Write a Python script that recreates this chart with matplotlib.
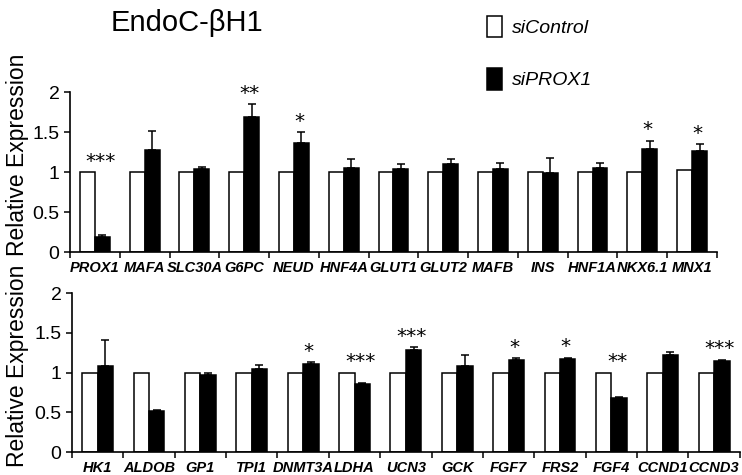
import numpy as np
import matplotlib
matplotlib.use("Agg")
import matplotlib.pyplot as plt

plt.rcParams["font.family"] = ["Liberation Sans", "DejaVu Sans"]

# -------------------------------
# Data
# -------------------------------
top_genes = ["PROX1", "MAFA", "SLC30A", "G6PC", "NEUD", "HNF4A", "GLUT1",
             "GLUT2", "MAFB", "INS", "HNF1A", "NKX6.1", "MNX1"]
top_ctrl = [1, 1, 1, 1, 1, 1, 1, 1, 1, 1, 1, 1, 1.03]
top_si = [0.19, 1.28, 1.04, 1.69, 1.36, 1.05, 1.04, 1.10, 1.04, 0.99, 1.05, 1.29, 1.26]
top_err = [0.03, 0.24, 0.02, 0.16, 0.14, 0.12, 0.06, 0.07, 0.07, 0.19, 0.06, 0.10, 0.09]
top_stars = ["***", "", "", "**", "*", "", "", "", "", "", "", "*", "*"]

bot_genes = ["HK1", "ALDOB", "GP1", "TPI1", "DNMT3A", "LDHA", "UCN3",
             "GCK", "FGF7", "FRS2", "FGF4", "CCND1", "CCND3"]
bot_ctrl = [1, 1, 1, 1, 1, 1, 1, 1, 1, 1, 1, 1, 0.99]
bot_si = [1.08, 0.52, 0.97, 1.05, 1.11, 0.86, 1.28, 1.08, 1.16, 1.17, 0.68, 1.22, 1.15]
bot_err = [0.33, 0.01, 0.02, 0.05, 0.02, 0.01, 0.04, 0.14, 0.02, 0.02, 0.02, 0.04, 0.01]
bot_stars = ["", "", "", "", "*", "***", "***", "", "*", "*", "**", "", "***"]


def draw_panel(ax, genes, ctrl, si, err, stars, label_y):
    x = np.arange(len(genes))
    w = 0.3
    b1 = ax.bar(x - w / 2, ctrl, w, color="white", edgecolor="black", linewidth=1.1)
    b2 = ax.bar(x + w / 2, si, w, color="black", edgecolor="black", linewidth=1.1)
    ax.errorbar(x + w / 2, si, yerr=[np.zeros(len(err)), err], fmt="none",
                ecolor="black", elinewidth=1.1, capsize=3, capthick=1.1)

    for i, s in enumerate(stars):
        if s:
            top = max(ctrl[i], si[i] + err[i])
            ax.text(x[i] + w / 2 - 0.04, top + 0.02, s, ha="center", va="bottom",
                    fontsize=14.5, family="DejaVu Sans")

    ax.set_xlim(-0.5, len(genes) - 0.5)
    ax.set_ylim(0, 2)
    ax.set_yticks([0, 0.5, 1, 1.5, 2])
    ax.set_yticklabels(["0", "0.5", "1", "1.5", "2"])
    ax.tick_params(axis="y", labelsize=14, length=4, width=1.1, direction="out")

    ax.set_xticks(x)
    ax.set_xticklabels(genes, fontsize=10.5, fontweight="bold", fontstyle="italic")
    ax.set_xticks(np.arange(len(genes) + 1) - 0.5, minor=True)
    ax.tick_params(axis="x", which="major", length=0, pad=6)
    ax.tick_params(axis="x", which="minor", length=4, width=1.1, direction="out")

    for side in ["top", "right"]:
        ax.spines[side].set_visible(False)
    for side in ["left", "bottom"]:
        ax.spines[side].set_linewidth(1.2)

    ax.set_ylabel("Relative Expression", fontsize=16.5)
    ax.yaxis.set_label_coords(-0.064, label_y)
    return b1, b2


fig = plt.figure(figsize=(7.42, 4.75), dpi=100)

ax1 = fig.add_axes([0.0943, 0.469, 0.872, 0.337])
ax2 = fig.add_axes([0.097, 0.048, 0.90, 0.335])

h1, h2 = draw_panel(ax1, top_genes, top_ctrl, top_si, top_err, top_stars, 0.606)
draw_panel(ax2, bot_genes, bot_ctrl, bot_si, bot_err, bot_stars, 0.54)

fig.text(0.252, 0.952, "EndoC-\u03b2H1", ha="center", va="center", fontsize=21)

fig.legend([h1, h2], ["siControl", "siPROX1"], loc="upper left",
           bbox_to_anchor=(0.633, 1.003), frameon=False,
           handlelength=0.75, handleheight=1.3, handletextpad=0.5,
           labelspacing=1.6, prop={"style": "italic", "size": 14})

fig.savefig("out.png", dpi=100)
